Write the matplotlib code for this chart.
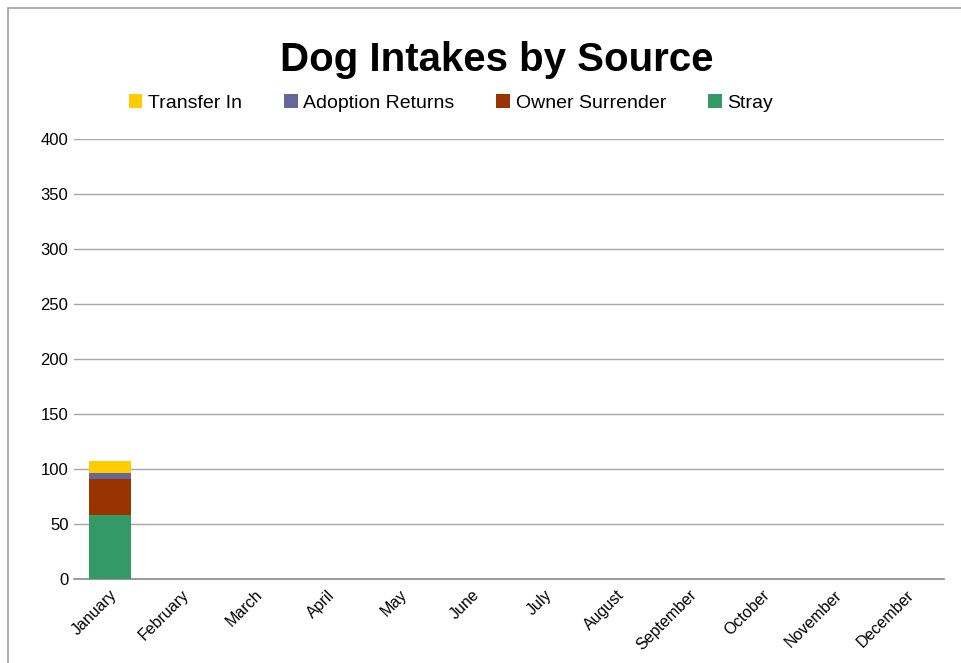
import matplotlib
matplotlib.use("Agg")
import matplotlib.pyplot as plt
from matplotlib.patches import Rectangle, Patch
import matplotlib.transforms as mtransforms
import numpy as np

plt.rcParams['font.family'] = ['Liberation Sans', 'DejaVu Sans']

months = ["January", "February", "March", "April", "May", "June", "July",
          "August", "September", "October", "November", "December"]
stray = [58, 0, 0, 0, 0, 0, 0, 0, 0, 0, 0, 0]
owner_surrender = [33, 0, 0, 0, 0, 0, 0, 0, 0, 0, 0, 0]
adoption_returns = [5, 0, 0, 0, 0, 0, 0, 0, 0, 0, 0, 0]
transfer_in = [11, 0, 0, 0, 0, 0, 0, 0, 0, 0, 0, 0]
y_ticks = [0, 50, 100, 150, 200, 250, 300, 350, 400]

colors = {"Stray": "#339966", "Owner Surrender": "#993300",
          "Adoption Returns": "#666699", "Transfer In": "#FFCC00"}

W, H = 962, 663
fig = plt.figure(figsize=(W / 100, H / 100), dpi=100)
fig.patch.set_facecolor("white")

# outer frame
fig.add_artist(Rectangle((8 / W, -0.1), 1.2, 1 - 8 / H + 0.1, transform=fig.transFigure,
                         fill=False, edgecolor="#a0a0a0", linewidth=1.2))

ax = fig.add_axes([74 / W, 1 - 579 / H, (944 - 74) / W, (579 - 139) / H])
x = np.arange(len(months))
series = [("Stray", stray), ("Owner Surrender", owner_surrender),
          ("Adoption Returns", adoption_returns), ("Transfer In", transfer_in)]
bottom = np.zeros(len(months))
for name, vals in series:
    vals = np.array(vals, dtype=float)
    ax.bar(x, vals, bottom=bottom, width=0.58, color=colors[name], zorder=3)
    bottom += vals

ax.set_xlim(-0.5, len(months) - 0.5)
ax.set_ylim(0, 400)
ax.set_yticks(y_ticks)
ax.grid(axis="y", color="#a6a6a6", linewidth=1, zorder=0)
for s in ["left", "right", "top"]:
    ax.spines[s].set_visible(False)
ax.spines["bottom"].set_color("#8a8a8a")
ax.spines["bottom"].set_linewidth(1.2)
ax.tick_params(axis="y", length=0, labelsize=12, pad=4)
ax.tick_params(axis="x", length=0, labelsize=11.5, pad=6)
ax.set_xticks(x)
ax.set_xticklabels(months, rotation=45, ha="right", va="top", rotation_mode="anchor")
offset = mtransforms.ScaledTranslation(-1 / 100, 0, fig.dpi_scale_trans)
for lbl in ax.get_xticklabels():
    lbl.set_transform(lbl.get_transform() + offset)

fig.text(497 / W, 1 - 60 / H, "Dog Intakes by Source", ha="center", va="center",
         fontsize=29, fontweight="bold")

handles = [Patch(facecolor=colors[n], edgecolor="none") for n in
           ["Transfer In", "Adoption Returns", "Owner Surrender", "Stray"]]
fig.legend(handles, ["Transfer In", "Adoption Returns", "Owner Surrender", "Stray"],
           loc="center", bbox_to_anchor=(451 / W, 1 - 103 / H), ncol=4, frameon=False,
           fontsize=14, handlelength=0.7, handleheight=0.7, handletextpad=0.3,
           columnspacing=2.15)

fig.savefig("out.png", dpi=100)
